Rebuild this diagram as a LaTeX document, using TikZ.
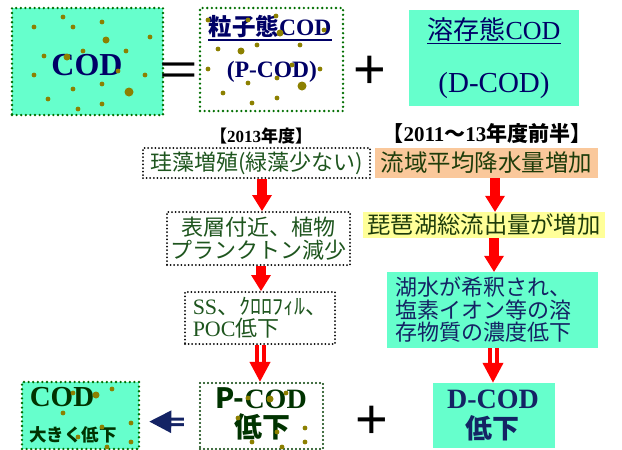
\documentclass[tikz,border=0pt]{standalone}
\usepackage{fontspec}
\setmainfont{Liberation Serif}
\setsansfont{Liberation Sans}
\newfontfamily\jp{Noto Sans CJK JP}
\usetikzlibrary{arrows.meta}
\definecolor{aqua}{RGB}{102,255,204}
\definecolor{orangef}{RGB}{250,200,155}
\definecolor{yellowf}{RGB}{255,255,153}
\definecolor{dotc}{RGB}{140,128,0}
\definecolor{gborder}{RGB}{0,110,0}
\definecolor{dgborder}{RGB}{0,60,0}
\definecolor{navyt}{RGB}{0,0,102}
\definecolor{navyb}{RGB}{20,35,100}
\definecolor{greent}{RGB}{30,85,30}
\definecolor{dkgreent}{RGB}{0,51,0}
\definecolor{olivet}{RGB}{30,60,10}
\newcommand{\myfs}[1]{\fontsize{#1}{#1}\selectfont}
\newcommand{\mylfs}[2]{\fontsize{#1}{#2}\selectfont}
\begin{document}
\begin{tikzpicture}[x=1pt,y=-1pt,
  tx/.style={inner sep=0pt},
  gbox/.style={rectangle, inner sep=0pt, draw=gborder, line width=2.6pt, dash pattern=on 0pt off 4.6pt, line cap=round},
  dgbox/.style={rectangle, inner sep=0pt, draw=dgborder, line width=2.2pt, dash pattern=on 0pt off 4pt, line cap=round},
  kbox/.style={rectangle, inner sep=0pt, draw=black, line width=2pt, dash pattern=on 0pt off 3.6pt, line cap=round},
  fbox/.style={rectangle, inner sep=0pt},
  redarr/.style={draw=red, solid, line cap=butt, line width=9.5pt, -{Triangle[width=20pt,length=16pt,line width=0pt]}},
  dblred/.style={draw=red, solid, line width=4pt, double=white, double distance=3pt, -{Triangle[width=20pt,length=20pt]}},
  dblnavy/.style={draw=navyb, solid, line width=3pt, double=white, double distance=2.5pt, -{Triangle[width=22pt,length=22pt]}}
]
\useasboundingbox (0,0) rectangle (622,450);

% ---- top row boxes
\node[gbox, fill=aqua, minimum width=151pt, minimum height=107pt] (codtop) at (87.5,61.5) {};
\node[gbox, fill=white, minimum width=143pt, minimum height=103pt] (pcodtop) at (271.5,59.5) {};
\node[fbox, fill=aqua, minimum width=170pt, minimum height=96pt] (dcodtop) at (494,58) {};

\node[tx, font=\myfs{32}\bfseries, text=navyt] (t0) at (87,65) {COD};
\node[tx, font=\myfs{23.5}\bfseries, text=navyt] (t1) at (270,27) {{\jp 粒子態}COD};
\draw[navyt, line width=1.6pt] ([yshift=-1.5pt]t1.south west) -- ([yshift=-1.5pt]t1.south east);
\node[tx, font=\myfs{23.5}\bfseries, text=navyt] (t2) at (272,72) {(P-COD)};
\node[tx, font=\myfs{26}, text=navyt] (t3) at (494,30) {{\jp 溶存態}COD};
\draw[navyt, line width=1.3pt] ([yshift=-1.5pt]t3.south west) -- ([yshift=-1.5pt]t3.south east);
\node[tx, font=\myfs{29}, text=navyt] (t4) at (494,86) {(D-COD)};

\node[tx, font=\myfs{44}\sffamily] (eq) at (179,74) {\scalebox{1.5}[1]{=}};
\node[tx, font=\myfs{56}\sffamily] (plus1) at (370,72) {+};

% ---- headers
\node[tx, font=\myfs{17}\bfseries] (h1) at (261,136) {{\jp 【}2013{\jp 年度】}};
\node[tx, font=\myfs{21}\bfseries] (h2) at (487,134) {{\jp 【}2011{\jp ～}13{\jp 年度前半】}};

% ---- left column
\node[kbox, minimum width=227pt, minimum height=30pt, text=greent, font=\myfs{22}\jp] (b1) at (256.5,163) {珪藻増殖(緑藻少ない)};
\node[kbox, minimum width=183pt, minimum height=53pt, text=greent, align=center, font=\mylfs{22}{23.5}\jp] (b2) at (258.5,238.5) {表層付近、植物\\プランクトン減少};
\node[kbox, minimum width=150pt, minimum height=52pt, text=greent, align=left, font=\mylfs{22}{22}] (b3) at (260,318) {SS{\jp 、ｸﾛﾛﾌｨﾙ、}\\POC{\jp 低下}};

% ---- right column
\node[fbox, fill=orangef, minimum width=223pt, minimum height=30pt, text=olivet, font=\myfs{23.5}\jp] (r1) at (486.5,163) {流域平均降水量増加};
\node[fbox, fill=yellowf, minimum width=242pt, minimum height=26pt, text=olivet, font=\myfs{23.3}\jp] (r2) at (484,225) {琵琶湖総流出量が増加};
\node[fbox, fill=aqua, minimum width=211pt, minimum height=76pt, text width=195pt, align=left, text=navyb, font=\mylfs{22}{22.5}\jp] (r3) at (492.5,310) {湖水が希釈され、\\塩素イオン等の溶\\存物質の濃度低下};

% ---- bottom row
\node[gbox, fill=aqua, minimum width=117pt, minimum height=67pt] (codl) at (80.5,415.5) {};
\node[dgbox, fill=white, minimum width=123pt, minimum height=66pt] (pcod) at (261.5,416) {};
\node[fbox, fill=aqua, minimum width=122pt, minimum height=65pt] (dcod) at (494,415.5) {};

\node[tx, font=\myfs{29}\bfseries, text=dkgreent] (ct) at (62,397) {COD};
\node[tx, font=\myfs{17.5}\bfseries\jp, text=dkgreent] (cl) at (73,435) {大きく低下};
\node[tx, font=\myfs{28}\bfseries, text=dkgreent] (pt) at (261,398) {{\jp P-}COD};
\node[tx, font=\myfs{28}\bfseries\jp, text=dkgreent] (pl) at (262,427) {低下};
\node[tx, font=\myfs{28}\bfseries, text=navyb] (dt) at (493,399) {D-COD};
\node[tx, font=\myfs{27}\bfseries\jp, text=navyb] (dl) at (492,428) {低下};
\node[tx, font=\myfs{56}\sffamily] (plus2) at (372,422) {+};

% ---- arrows
\draw[redarr] ([xshift=5.5pt]b1.south) -- ([xshift=3.5pt]b2.north);
\draw[redarr] ([xshift=2.5pt]b2.south) -- ([xshift=1pt]b3.north);
\draw[redarr] ([xshift=8.5pt]r1.south) -- ([xshift=11pt]r2.north);
\draw[redarr] ([xshift=10pt]r2.south) -- ([xshift=1.5pt]r3.north);
\draw[dblred] (b3.south) -- ([xshift=-1.5pt]pcod.north);
\draw[dblred] ([xshift=0.5pt]r3.south) -- ([xshift=-1pt]dcod.north);
\draw[dblnavy, shorten <=15pt, shorten >=9pt] ([yshift=-6pt]pcod.west) -- ([yshift=-6pt]codl.east);

% ---- dots
\foreach \p in {(63,17),(34,27),(73,27),(102,22),(150,37),(126,51),(44,56),(83,51),(34,75),(118,71),(145,75),(102,84),(73,89),(48,99),(102,104),(78,109),
  (208,20),(248,20),(276,16),(324,30),(218,49),(257,45),(300,45),(208,69),(292,65),(320,69),(277,78),(248,83),(223,93),(277,98),(252,103),
  (73,393),(112,389),(63,413),(131,423),(102,427),(78,437),(131,442),(107,447),
  (248,398),(286,393),(238,418),(277,432),(305,428),(252,442),(305,442),(282,447)}
  \fill[dotc] \p circle (2.4);
\foreach \p in {(106,40),(67,57),(280,33),(241,51),(96,395),(270,399)}
  \fill[dotc] \p circle (3.5);
\foreach \p in {(129,92),(302,86)}
  \fill[dotc] \p circle (4.5);
\end{tikzpicture}
\end{document}
